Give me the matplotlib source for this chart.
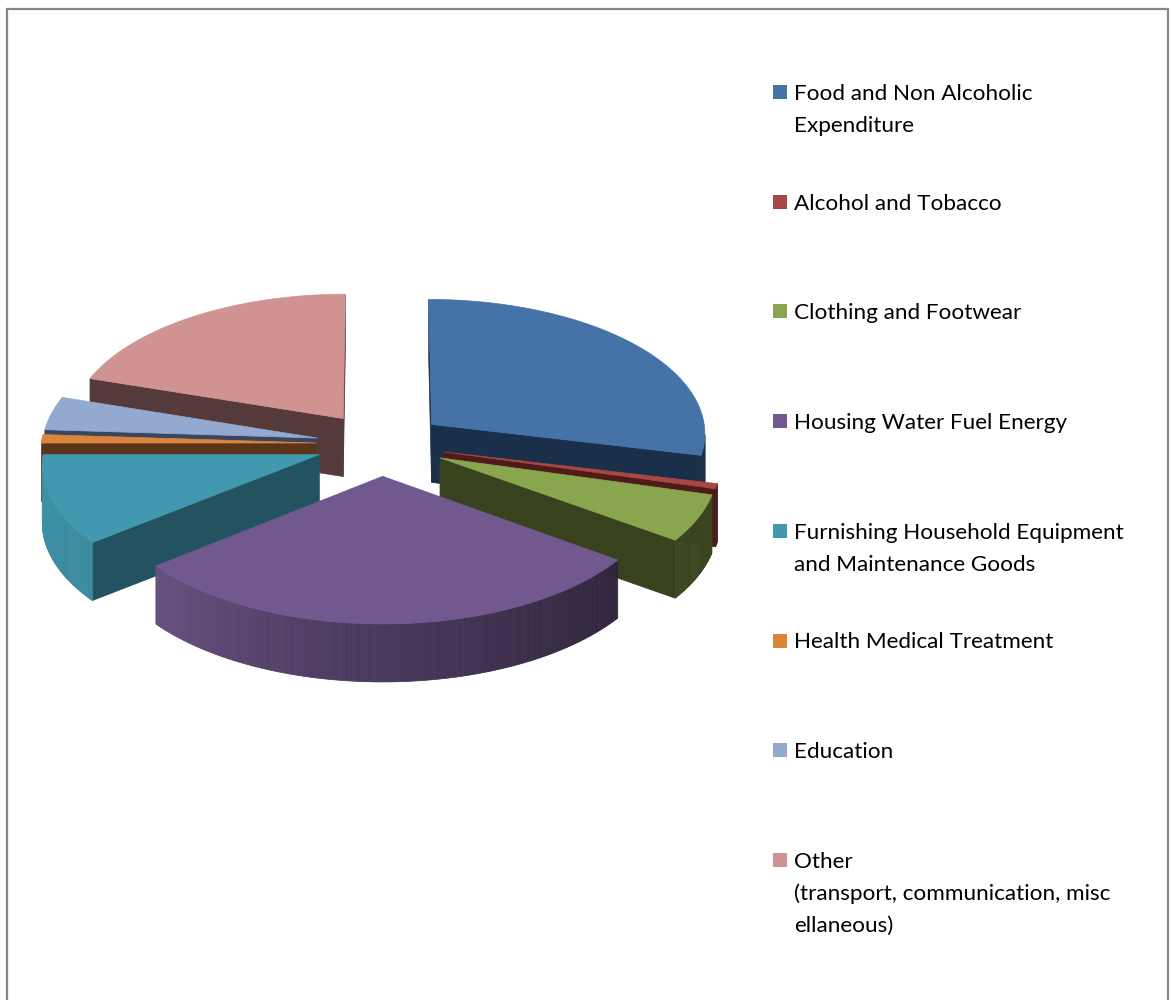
import numpy as np
import matplotlib
matplotlib.use('Agg')
from matplotlib import pyplot as plt
from matplotlib.patches import Polygon, Rectangle

plt.rcParams['font.family'] = ['Lato', 'DejaVu Sans']

categories = ['Food and Non Alcoholic\nExpenditure', 'Alcohol and Tobacco', 'Clothing and Footwear',
              'Housing Water Fuel Energy', 'Furnishing Household Equipment\nand Maintenance Goods',
              'Health Medical Treatment', 'Education',
              'Other\n(transport, communication, misc\nellaneous)']
shares = [28.7, 0.6, 5.6, 29.4, 10.7, 1.0, 4.0, 20.0]
colors = ['#4572A7', '#AA4643', '#89A54E', '#71588F', '#4198AF', '#DB843D', '#93A9CF', '#D19392']
side_colors = ['#1A2F4A', '#4E1B1B', '#39421F', '#2C213B', '#235260', '#5A3418', '#3A4560', '#553A3B']

# pie geometry in pixels
cx, cy = 381, 444
radius = 275
explode = 65
squash = 0.49
persp = 0.06
depth = 58


def project(X, Y):
    w = 1 / (1 + persp * Y / radius)
    return cx + X * w, cy - squash * Y * w


def arc_shade(theta):
    # lighting on the curved wall, theta clockwise from the top of the pie
    return np.interp(theta, [100, 127, 180, 233, 260], [0.42, 0.42, 0.64, 0.9, 0.95])


def darker(color, f):
    return np.array(matplotlib.colors.to_rgb(color)) * f


fig = plt.figure(figsize=(11.71, 10), dpi=100)
ax = fig.add_axes([0, 0, 1, 1])
ax.set_xlim(0, 1171)
ax.set_ylim(1000, 0)
ax.axis('off')

edges = np.cumsum([0] + shares) / sum(shares) * 360
order = sorted(range(len(shares)), key=lambda i: -np.cos(np.radians((edges[i] + edges[i + 1]) / 2)))

for i in order:
    a0, a1 = edges[i], edges[i + 1]
    mid = np.radians((a0 + a1) / 2)
    ox, oy = explode * np.sin(mid), explode * np.cos(mid)
    thetas = np.linspace(a0, a1, max(int(a1 - a0) * 2, 3))
    rad = np.radians(thetas)
    xs, ys = project(ox + radius * np.sin(rad), oy + radius * np.cos(rad))
    apex = project(ox, oy)
    outline = np.vstack([[apex], np.column_stack([xs, ys])])

    # radial faces first, then the curved wall, only where they face the viewer
    for p, q in [(outline[0], outline[1]), (outline[-1], outline[0])]:
        if q[0] < p[0]:
            quad = [p, q, q + [0, depth], p + [0, depth]]
            ax.add_patch(Polygon(quad, closed=True, fc=side_colors[i], ec=side_colors[i], lw=0.5))
    for k in range(1, len(outline) - 1):
        p, q = outline[k], outline[k + 1]
        if q[0] < p[0]:
            quad = [p, q, q + [0, depth], p + [0, depth]]
            shade = darker(colors[i], arc_shade((thetas[k - 1] + thetas[k]) / 2))
            ax.add_patch(Polygon(quad, closed=True, fc=shade, ec=shade, lw=0.5))
    ax.add_patch(Polygon(outline, closed=True, fc=colors[i], ec=colors[i], lw=0.5))

# legend, one row per category
for i, label in enumerate(categories):
    y = 92 + i * 109.7
    ax.add_patch(Rectangle((773, y - 7), 14, 14, fc=colors[i], ec='none'))
    for j, line in enumerate(label.split('\n')):
        ax.text(794, y + 8 + j * 32, line, fontsize=16.2, color='black', va='baseline', ha='left')

# chart frame, runs off the bottom
ax.plot([7, 7, 1168, 1168], [1000, 9, 9, 1000], color='#868686', lw=1.6, solid_joinstyle='miter')

fig.savefig('out.png', dpi=100)
